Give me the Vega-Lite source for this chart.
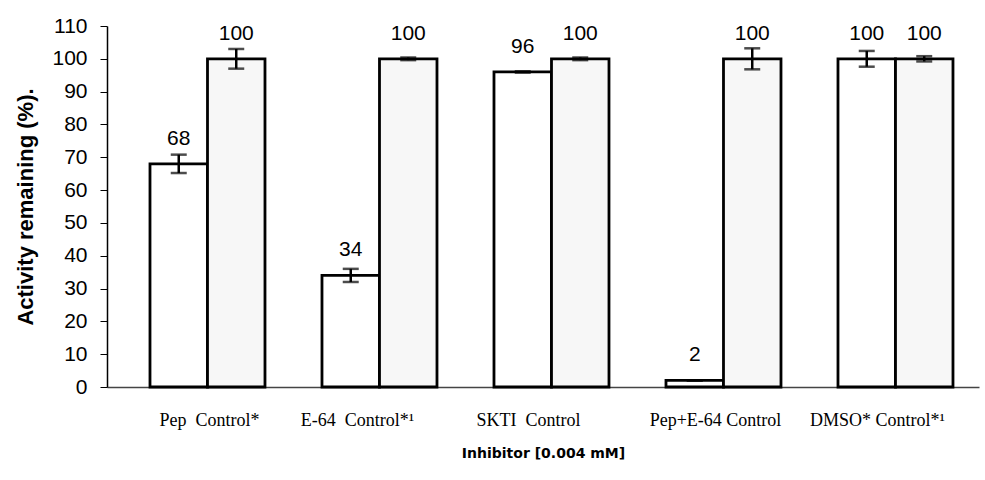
{
  "$schema": "https://vega.github.io/schema/vega-lite/v6.json",
  "autosize": "none",
  "width": 872,
  "height": 361,
  "padding": {"left": 107, "top": 26, "right": 6, "bottom": 93},
  "background": "white",
  "config": {
    "view": {"stroke": null},
    "axis": {"grid": false},
    "axisY": {
      "titleFont": "Liberation Sans",
      "titleFontWeight": "bold",
      "titleFontSize": 22,
      "titleColor": "black",
      "titlePadding": 14,
      "labelFont": "Liberation Sans",
      "labelFontSize": 21,
      "labelColor": "black",
      "labelPadding": 13,
      "labelOverlap": false,
      "labelBound": false,
      "labelFlush": false,
      "tickSize": 7,
      "tickColor": "black",
      "domainColor": "black",
      "domainWidth": 1.5
    }
  },
  "data": {
    "values": [
      {"group": "Pep", "bar": "Inhibitor", "value": 68, "low": 65.2, "high": 70.8},
      {"group": "Pep", "bar": "Control", "value": 100, "low": 97, "high": 103},
      {"group": "E-64", "bar": "Inhibitor", "value": 34, "low": 32, "high": 36},
      {"group": "E-64", "bar": "Control", "value": 100, "low": 99.6, "high": 100.4},
      {"group": "SKTI", "bar": "Inhibitor", "value": 96, "low": 95.8, "high": 96.2},
      {"group": "SKTI", "bar": "Control", "value": 100, "low": 99.6, "high": 100.4},
      {"group": "Pep+E-64", "bar": "Inhibitor", "value": 2, "low": 2, "high": 2},
      {"group": "Pep+E-64", "bar": "Control", "value": 100, "low": 96.8, "high": 103.2},
      {"group": "DMSO", "bar": "Inhibitor", "value": 100, "low": 97.6, "high": 102.4},
      {"group": "DMSO", "bar": "Control", "value": 100, "low": 99.2, "high": 100.8}
    ]
  },
  "encoding": {
    "x": {
      "field": "group",
      "type": "nominal",
      "sort": ["Pep", "E-64", "SKTI", "Pep+E-64", "DMSO"],
      "scale": {"paddingInner": 0.3314, "paddingOuter": 0.2006, "align": 0.623},
      "axis": {
        "title": "Inhibitor [0.004 mM]",
        "titleFont": "DejaVu Sans",
        "titleFontWeight": "bold",
        "titleFontSize": 14,
        "titleColor": "black",
        "titlePadding": 17,
        "labelFont": "Liberation Serif",
        "labelFontSize": 18,
        "labelColor": "black",
        "labelAngle": 0,
        "labelPadding": 24,
        "labelOverlap": false,
        "ticks": false,
        "domainColor": "#444",
        "domainWidth": 1.5,
        "labelOffset": {
          "condition": [
            {"test": "datum.value == 'E-64'", "value": -22},
            {"test": "datum.value == 'SKTI'", "value": -23},
            {"test": "datum.value == 'Pep+E-64'", "value": -8},
            {"test": "datum.value == 'DMSO'", "value": -18}
          ],
          "value": 2
        },
        "labelExpr": "{'Pep': 'Pep\u00a0\u00a0Control*', 'E-64': 'E-64\u00a0 Control*\u00b9', 'SKTI': 'SKTI\u00a0\u00a0Control', 'Pep+E-64': 'Pep+E-64 Control', 'DMSO': 'DMSO* Control*\u00b9'}[datum.value]"
      }
    },
    "xOffset": {
      "field": "bar",
      "type": "nominal",
      "sort": ["Inhibitor", "Control"],
      "scale": {"paddingInner": 0, "paddingOuter": 0}
    }
  },
  "layer": [
    {
      "mark": {"type": "bar", "stroke": "black", "strokeWidth": 2.8},
      "encoding": {
        "y": {
          "field": "value",
          "type": "quantitative",
          "scale": {"domain": [0, 110], "nice": false},
          "axis": {"title": "Activity remaining (%).", "values": [0, 10, 20, 30, 40, 50, 60, 70, 80, 90, 100, 110]}
        },
        "fill": {
          "field": "bar",
          "type": "nominal",
          "scale": {"domain": ["Inhibitor", "Control"], "range": ["white", "#f7f7f7"]},
          "legend": null
        }
      }
    },
    {
      "mark": {"type": "rule", "color": "black", "strokeWidth": 2.5},
      "encoding": {
        "y": {"field": "low", "type": "quantitative", "axis": {"title": "Activity remaining (%).", "values": [0, 10, 20, 30, 40, 50, 60, 70, 80, 90, 100, 110]}},
        "y2": {"field": "high"}
      }
    },
    {
      "mark": {"type": "tick", "color": "black", "thickness": 2.5, "size": 16},
      "encoding": {"y": {"field": "low", "type": "quantitative", "axis": {"title": "Activity remaining (%).", "values": [0, 10, 20, 30, 40, 50, 60, 70, 80, 90, 100, 110]}}}
    },
    {
      "mark": {"type": "tick", "color": "black", "thickness": 2.5, "size": 16},
      "encoding": {"y": {"field": "high", "type": "quantitative", "axis": {"title": "Activity remaining (%).", "values": [0, 10, 20, 30, 40, 50, 60, 70, 80, 90, 100, 110]}}}
    },
    {
      "mark": {"type": "text", "font": "Liberation Sans", "fontSize": 21, "baseline": "alphabetic", "dy": -19, "color": "black"},
      "encoding": {
        "y": {"field": "value", "type": "quantitative", "axis": {"title": "Activity remaining (%).", "values": [0, 10, 20, 30, 40, 50, 60, 70, 80, 90, 100, 110]}},
        "text": {"field": "value", "type": "quantitative"}
      }
    }
  ]
}
